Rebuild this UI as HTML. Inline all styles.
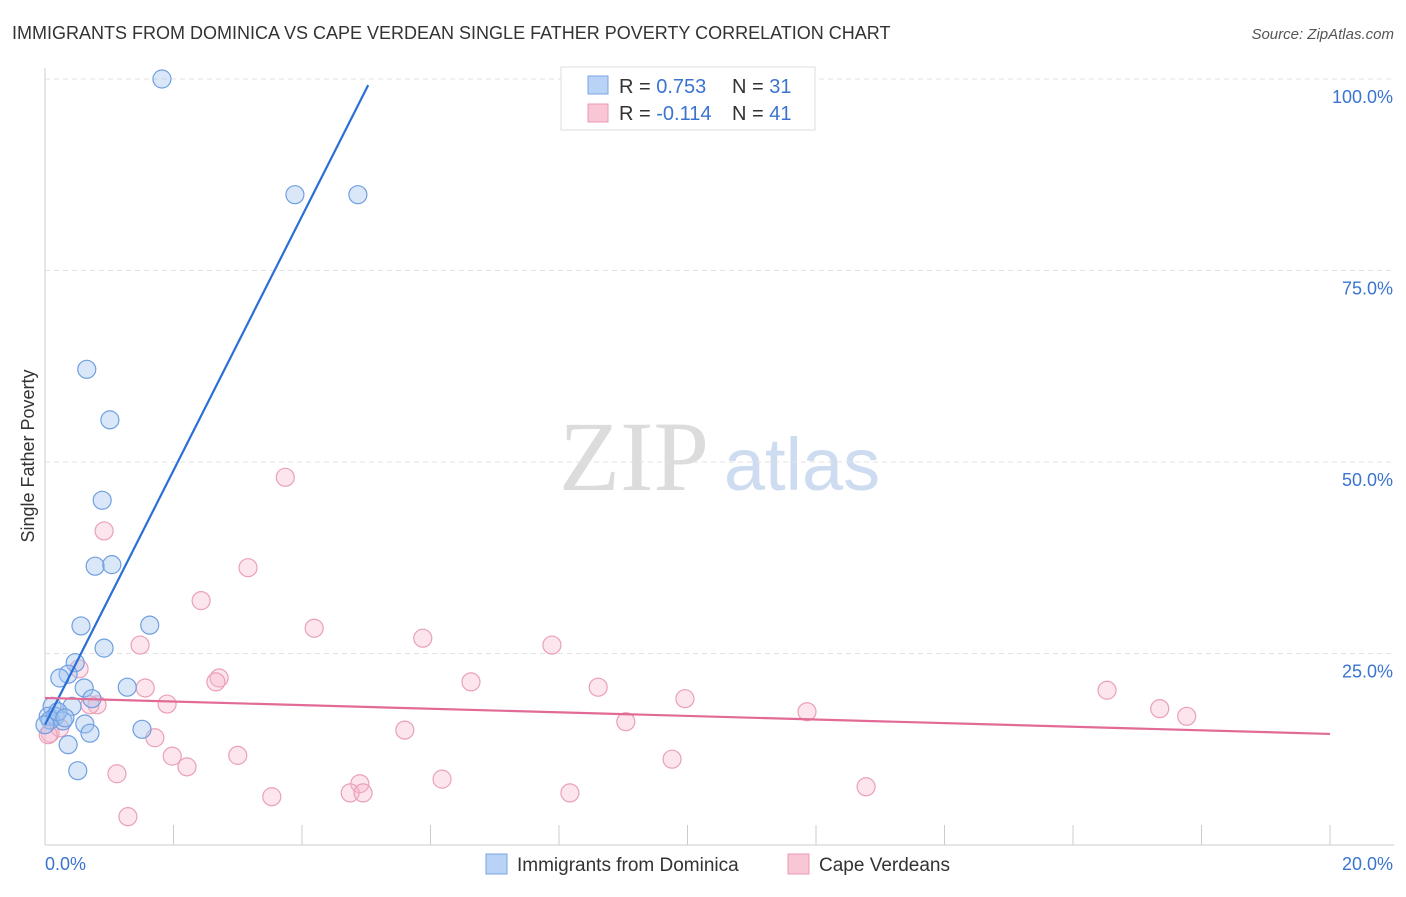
<!DOCTYPE html>
<html><head><meta charset="utf-8"><style>
body{margin:0;background:#fff;font-family:"Liberation Sans",sans-serif}
</style></head><body>
<svg width="1406" height="892" id="c" font-family="Liberation Sans, sans-serif">
<text x="12" y="39" font-size="18" fill="#333">IMMIGRANTS FROM DOMINICA VS CAPE VERDEAN SINGLE FATHER POVERTY CORRELATION CHART</text>
<text x="1394" y="39" font-size="15" fill="#555" text-anchor="end" font-style="italic">Source: ZipAtlas.com</text>
<text x="634" y="490" font-size="100" fill="#dcdcdc" text-anchor="middle" style="font-family:'Liberation Serif',serif">ZIP</text>
<text x="802" y="490" font-size="74" fill="#cddcf0" text-anchor="middle">atlas</text>
<text x="34" y="456" font-size="18" fill="#333" text-anchor="middle" transform="rotate(-90 34 456)">Single Father Poverty</text>
<g id="grid"></g><g id="pts"></g><g id="lines"></g>
<g>
<rect x="561" y="67" width="254" height="63" fill="#fff" stroke="#ddd"/>
<rect x="588" y="76" width="20" height="18" fill="#b8d3f5" stroke="#7aa6e0"/>
<rect x="588" y="104" width="20" height="18" fill="#f9c6d6" stroke="#eb9ab4"/>
<text x="619" y="93" font-size="20" fill="#333">R = <tspan fill="#3a74d0">0.753</tspan></text>
<text x="732" y="93" font-size="20" fill="#333">N = <tspan fill="#3a74d0">31</tspan></text>
<text x="619" y="120" font-size="20" fill="#333">R = <tspan fill="#3a74d0">-0.114</tspan></text>
<text x="732" y="120" font-size="20" fill="#333">N = <tspan fill="#3a74d0">41</tspan></text>
</g>
<g>
<rect x="486" y="854" width="21" height="20" fill="#b8d3f5" stroke="#7aa6e0"/>
<text x="517" y="871" font-size="19" fill="#333">Immigrants from Dominica</text>
<rect x="788" y="854" width="21" height="20" fill="#f9c6d6" stroke="#eb9ab4"/>
<text x="819" y="871" font-size="19" fill="#333">Cape Verdeans</text>
</g>
</svg>
<script>
const blueX=[1.82,3.89,4.87,0.65,1.01,0.89,0.78,1.04,1.63,0.56,0.92,0.47,0.36,0.23,0.61,1.28,0.73,0.42,0.11,0.05,0.16,0.28,0.62,0.70,1.51,0.36,0.51,0.08,0.20,0,0.31];
const blueY=[100,84.9,84.9,62.1,55.5,45.0,36.4,36.6,28.7,28.6,25.7,23.8,22.3,21.8,20.5,20.6,19.1,18.1,18.1,16.8,16.8,16.2,15.8,14.6,15.1,13.1,9.7,16.3,17.4,15.7,16.6];
const pinkX=[3.74,0.92,3.16,2.43,4.19,5.88,7.89,1.48,0.53,2.71,2.66,6.63,1.56,8.61,1.90,0.81,9.96,16.53,11.86,17.35,17.77,9.04,5.60,1.71,1.98,3.00,2.21,9.76,1.12,6.18,4.90,4.75,4.95,8.17,3.53,12.78,1.29,0.08,0.23,0.05,0.70];
const pinkY=[48.0,41.0,36.2,31.9,28.3,27.0,26.1,26.1,23.0,21.8,21.3,21.3,20.5,20.6,18.4,18.3,19.1,20.2,17.4,17.8,16.8,16.1,15.0,14.0,11.6,11.7,10.2,11.2,9.3,8.6,8.0,6.8,6.8,6.8,6.3,7.6,3.7,14.6,15.3,14.4,18.3];
const blueTrend=[15.7,16.6]; // intercept, slope
const pinkTrend=[19.2,-0.235];
const yTicks=[25,50,75,100];
const xTickLabels=["0.0%","20.0%"];
const sx=v=>45+v*64.25, sy=v=>845-v*7.66;
const NS="http://www.w3.org/2000/svg";
function mk(t,a,p){const e=document.createElementNS(NS,t);for(const k in a)e.setAttribute(k,a[k]);p.appendChild(e);return e;}
const g=document.getElementById('grid');
yTicks.forEach(t=>{
 const l=mk('line',{x1:45,x2:1394,y1:sy(t),y2:sy(t),stroke:'#e2e2e2','stroke-dasharray':'5,4'},g);
 
 
 const tx=mk('text',{x:1393,y:sy(t)+24,'font-size':18,fill:'#3a74d0','text-anchor':'end'},g);
 tx.textContent=t.toFixed(1)+'%';
 
 
});
let ax=mk('line',{x1:45,x2:45,y1:68,y2:845,stroke:'#ccc'},g);


ax=mk('line',{x1:45,x2:1394,y1:845,y2:845,stroke:'#ccc'},g);


for(let i=0;i<=10;i++){const t=mk('line',{x1:sx(i*2),x2:sx(i*2),y1:825,y2:845,stroke:'#ccc'},g);
 
 }
[[0,'start',45],[20,'end',1393]].forEach((d,i)=>{const t=mk('text',{x:d[2],y:870,'font-size':18,fill:'#3a74d0','text-anchor':d[1]},g);t.textContent=xTickLabels[i];
 
 });
const p=document.getElementById('pts');
pinkX.forEach((x,i)=>{const c=mk('circle',{cx:sx(x),cy:sy(pinkY[i]),r:9,fill:'rgba(246,180,202,0.35)',stroke:'#eaa0b8','stroke-width':1.2},p);
 
 });
blueX.forEach((x,i)=>{const c=mk('circle',{cx:sx(x),cy:sy(blueY[i]),r:9,fill:'rgba(160,195,240,0.4)',stroke:'#6f9fe0','stroke-width':1.2},p);
 
 });
const L=document.getElementById('lines');
let bx2=(99.2-blueTrend[0])/blueTrend[1];
let l1=mk('line',{x1:sx(0),y1:sy(blueTrend[0]),x2:sx(bx2),y2:sy(blueTrend[0]+blueTrend[1]*bx2),stroke:'#2a6fd6','stroke-width':2.2},L);


let l2=mk('line',{x1:sx(0),y1:sy(pinkTrend[0]),x2:sx(20),y2:sy(pinkTrend[0]+pinkTrend[1]*20),stroke:'#e26a96','stroke-width':2.2},L);


</script>
</body></html>
